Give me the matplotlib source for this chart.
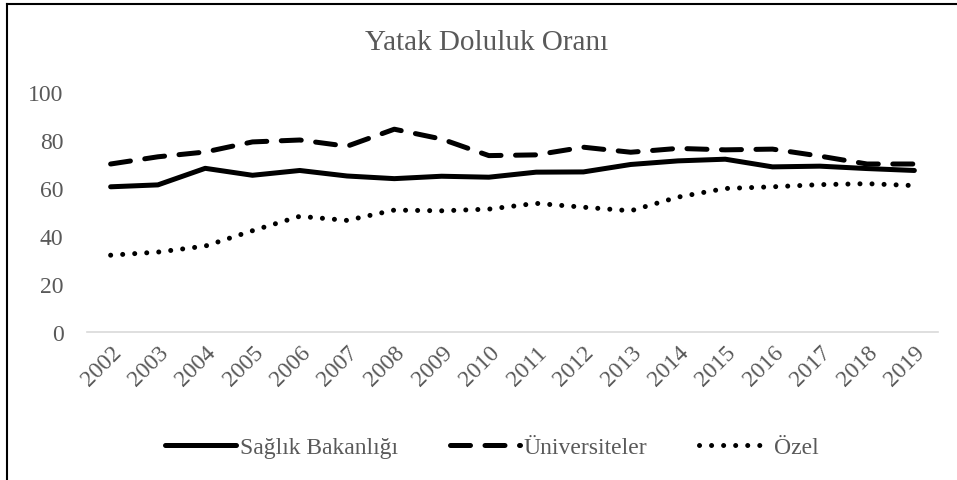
import numpy as np
import matplotlib.pyplot as plt
from matplotlib.lines import Line2D

years = [str(y) for y in range(2002, 2020)]
saglik = [60.5, 61.3, 68.2, 65.3, 67.3, 65.0, 63.9, 64.9, 64.5, 66.6,
          66.7, 69.8, 71.3, 72.0, 68.8, 69.1, 68.1, 67.3]
universite = [70.0, 73.0, 75.0, 79.2, 80.0, 77.4, 84.5, 80.4, 73.5, 73.8,
              77.0, 74.9, 76.5, 75.9, 76.2, 73.3, 70.0, 70.0]
ozel = [32.0, 33.3, 35.8, 42.2, 48.2, 46.5, 50.8, 50.5, 51.2, 53.6,
        52.0, 50.5, 56.2, 59.8, 60.5, 61.4, 61.8, 61.0]

grey = '#595959'
plt.rcParams['font.family'] = ['Liberation Serif', 'DejaVu Serif']

fig = plt.figure(figsize=(9.57, 4.81), dpi=100)
ax = fig.add_axes([87 / 957, 1 - 333 / 481, 851 / 957, 240 / 481])

x = np.arange(len(years))
ax.plot(x, saglik, color='black', lw=3.6, solid_capstyle='round',
        solid_joinstyle='round', label='Sağlık Bakanlığı')
ax.plot(x, universite, color='black', lw=3.6, dashes=(4, 2.9),
        dash_capstyle='round', label='Üniversiteler')
ax.plot(x, ozel, color='black', lw=3.6, dashes=(0.01, 2.4),
        dash_capstyle='round', label='Özel')

ax.set_xlim(-0.5, len(years) - 0.5)
ax.set_ylim(0, 100)
ax.set_yticks([0, 20, 40, 60, 80, 100])
ax.set_xticks(x)
ax.set_xticklabels(years, rotation=45, ha='right', rotation_mode='anchor')
ax.tick_params(axis='both', length=0, labelsize=17, labelcolor=grey)
ax.tick_params(axis='y', pad=17)
ax.tick_params(axis='x', pad=7)
for s in ['top', 'right', 'left']:
    ax.spines[s].set_visible(False)
ax.spines['bottom'].set_color('#d9d9d9')
ax.spines['bottom'].set_linewidth(1.2)

fig.text(0.508, 1 - 43 / 481, 'Yatak Doluluk Oranı', ha='center', va='center',
         fontsize=21, color=grey)

leg = fig.legend(loc='center', bbox_to_anchor=(0.514, 1 - 448 / 481), ncol=3,
                 frameon=False, fontsize=17, handlelength=3.0,
                 handletextpad=0.15, columnspacing=2.2)
for t in leg.get_texts():
    t.set_color(grey)

# outer frame: only top and left edges visible
fig.add_artist(Line2D([7 / 957, 7 / 957], [0, 1 - 5 / 481], color='black', lw=1.5,
                      transform=fig.transFigure))
fig.add_artist(Line2D([7 / 957, 1], [1 - 5 / 481, 1 - 5 / 481], color='black', lw=1.5,
                      transform=fig.transFigure))

fig.savefig('out.png', dpi=100)
